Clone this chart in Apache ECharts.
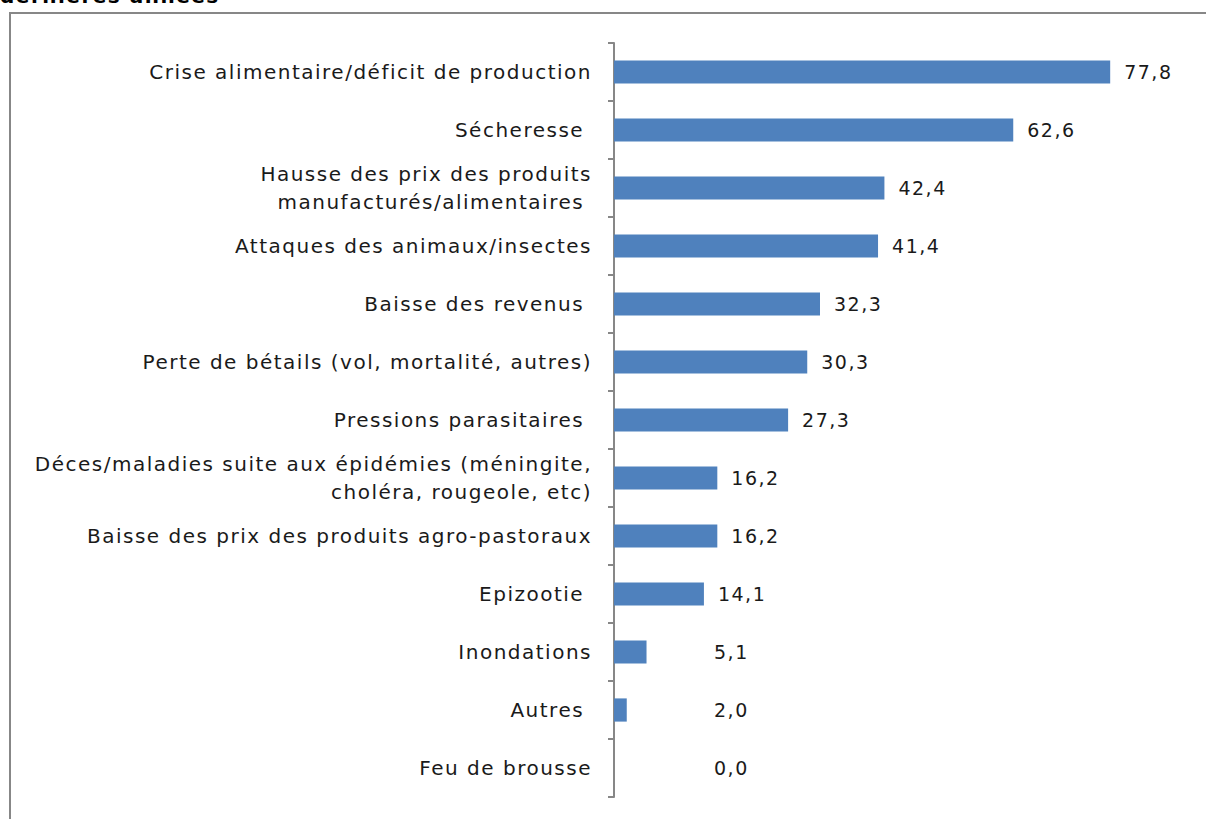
<!DOCTYPE html>
<html>
<head>
<meta charset="utf-8">
<script src="https://cdn.jsdelivr.net/npm/echarts@6/dist/echarts.min.js"></script>
<style>
  html, body { margin: 0; padding: 0; background: #fff; }
  #chart { width: 1206px; height: 819px; }
  /* police plus large, proche de Century Gothic */
  #chart svg text { letter-spacing: 1.5px; }
</style>
</head>
<body>
<div id="chart"></div>
<script>
// catégories (de haut en bas)
const categories = [
  'Crise alimentaire/déficit de production',
  'Sécheresse ',
  'Hausse des prix des produits\nmanufacturés/alimentaires ',
  'Attaques des animaux/insectes',
  'Baisse des revenus ',
  'Perte de bétails (vol, mortalité, autres)',
  'Pressions parasitaires ',
  'Déces/maladies suite aux épidémies (méningite,\ncholéra, rougeole, etc)',
  'Baisse des prix des produits agro-pastoraux',
  'Epizootie ',
  'Inondations',
  'Autres ',
  'Feu de brousse'
]

// pourcentages
const values = [77.8, 62.6, 42.4, 41.4, 32.3, 30.3, 27.3, 16.2, 16.2, 14.1, 5.1, 2.0, 0.0]

const titleText = 'dernières années'

const FONT = '"DejaVu Sans", sans-serif'

const chart = echarts.init(document.getElementById('chart'), null, { renderer: 'svg' })

const option = {
  animation: false,
  title: {
    text: titleText,
    left: 0,
    top: -14,
    padding: 0,
    textStyle: { fontFamily: FONT, fontSize: 20, fontWeight: 'bold', color: '#000' }
  },
  //cadre gris autour du graphique
  graphic: [{
    type: 'rect',
    shape: { x: 10, y: 13, width: 1400, height: 1000 },
    style: { fill: 'none', stroke: '#878787', lineWidth: 2 },
    z: -1
  }],
  grid: { left: 614, right: 18, top: 43, bottom: 22 },
  xAxis: {
    type: 'value',
    min: 0,
    max: 90,
    show: false
  },
  yAxis: {
    type: 'category',
    inverse: true,
    data: categories,
    axisLine: { lineStyle: { color: '#878787', width: 2 } },
    axisTick: { show: true, length: 6, lineStyle: { color: '#878787', width: 2 } },
    axisLabel: {
      margin: 22,
      fontFamily: FONT,
      fontSize: 20,
      lineHeight: 28,
      color: '#1a1a1a',
      align: 'right'
    }
  },
  series: [{
    type: 'bar',
    barWidth: '40%',
    itemStyle: { color: '#4F81BD' },
    label: {
      show: true,
      position: 'right',
      distance: 14,
      fontFamily: FONT,
      fontSize: 19,
      color: '#1a1a1a',
      formatter: p => p.value.toFixed(1).replace('.', ',')
    },
    // petites valeurs : étiquette décalée comme dans l'original
    data: values.map(v => v < 10
      ? { value: v, label: { position: [100, '50%'], align: 'left', verticalAlign: 'middle' } }
      : v)
  }]
}

chart.setOption(option)
</script>
</body>
</html>
